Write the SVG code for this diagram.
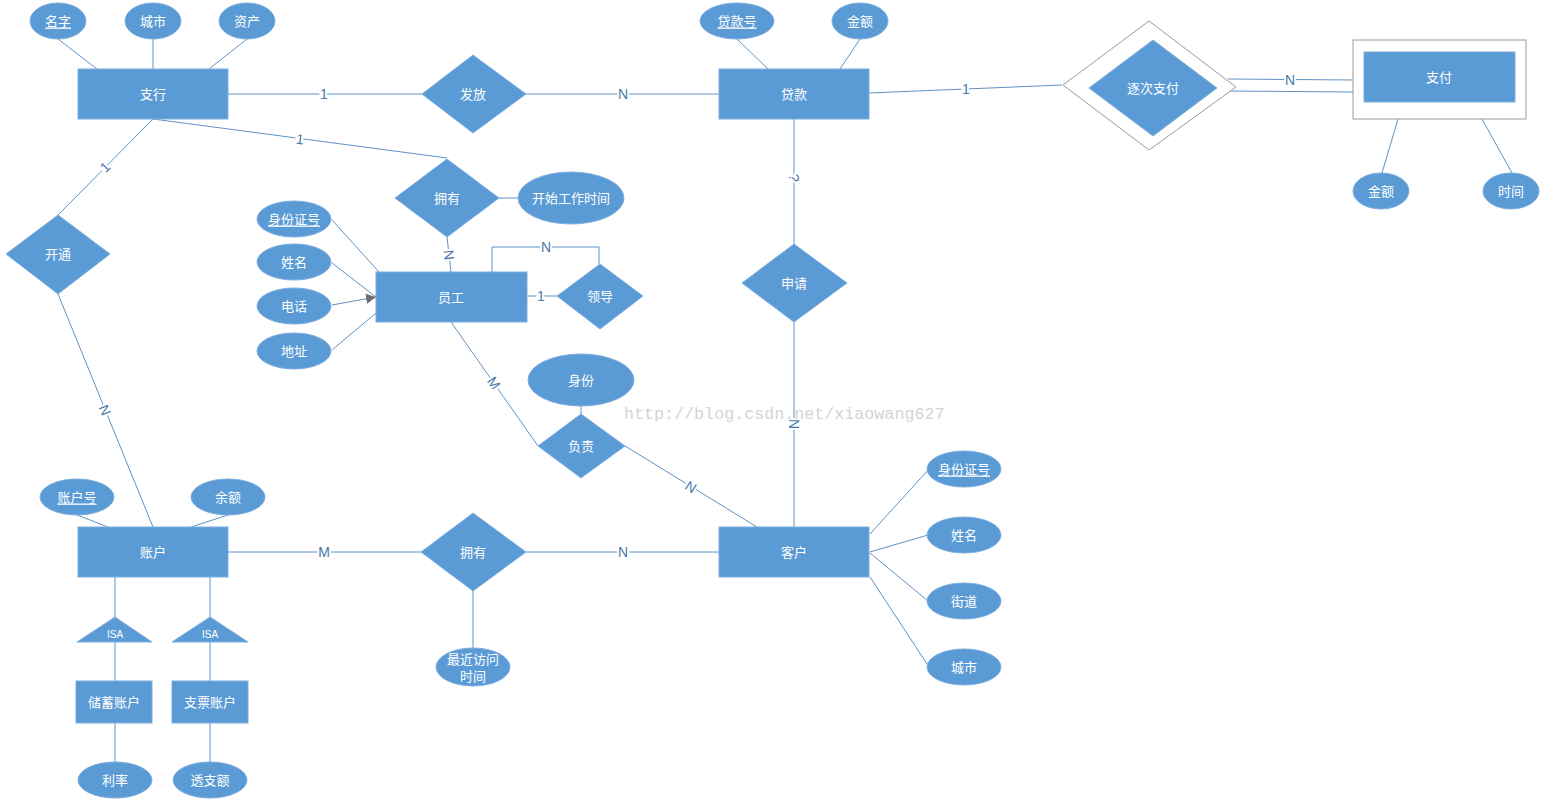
<svg xmlns="http://www.w3.org/2000/svg" width="1546" height="807" viewBox="0 0 1546 807">
<style>
.ent{fill:#5B9BD5;stroke:#7DAEDF;stroke-width:1}
.rel{fill:#5B9BD5;stroke:#7DAEDF;stroke-width:1}
.att{fill:#5B9BD5;stroke:#7DAEDF;stroke-width:1}
.wk{fill:#FFFFFF;stroke:#9A9A9A;stroke-width:1}
.t{fill:#FFFFFF;font-family:"Noto Sans CJK SC","Noto Sans",sans-serif;font-size:13px;text-anchor:middle;dominant-baseline:central}
.u{text-decoration:underline}
.isa{font-size:10px;font-family:"Liberation Sans","Noto Sans",sans-serif}
.ln{fill:none;stroke:#5F92C4;stroke-width:1}
.lb{fill:#4A78A8;font-family:"Liberation Sans",Arial,sans-serif;font-size:14px;text-anchor:middle;dominant-baseline:central;stroke:#FFFFFF;stroke-width:4;paint-order:stroke}
.wm{fill:#D4D4D4;font-family:"Liberation Mono","DejaVu Sans Mono",monospace;font-size:16.7px;dominant-baseline:central}
</style>
<defs>
<marker id="arr" viewBox="0 0 10 10" refX="10" refY="5" markerWidth="10" markerHeight="10" markerUnits="userSpaceOnUse" orient="auto">
<path d="M0,0 L10,5 L0,10 Z" fill="#6E6E6E"/>
</marker>
</defs>
<rect width="1546" height="807" fill="#FFFFFF"/>

<g id="connectors">
<line class="ln" x1="58" y1="39" x2="97" y2="69"/>
<line class="ln" x1="153" y1="39" x2="153" y2="69"/>
<line class="ln" x1="247" y1="39" x2="209" y2="69"/>
<line class="ln" x1="228" y1="94" x2="422" y2="94"/>
<line class="ln" x1="526" y1="94" x2="719" y2="94"/>
<line class="ln" x1="737" y1="39" x2="768" y2="69"/>
<line class="ln" x1="860" y1="39" x2="840" y2="69"/>
<line class="ln" x1="869" y1="93" x2="1062" y2="85"/>
<line class="ln" x1="1228" y1="79" x2="1353" y2="80"/>
<line class="ln" x1="1230" y1="91" x2="1353" y2="92"/>
<line class="ln" x1="1398" y1="119" x2="1382" y2="173"/>
<line class="ln" x1="1482" y1="119" x2="1512" y2="173"/>
<line class="ln" x1="153" y1="119" x2="447" y2="158"/>
<line class="ln" x1="153" y1="119" x2="58" y2="215"/>
<line class="ln" x1="58" y1="294" x2="153" y2="527"/>
<line class="ln" x1="499" y1="198" x2="518" y2="198"/>
<line class="ln" x1="447" y1="237" x2="451" y2="272"/>
<polyline class="ln" points="492,272 492,247 599,247 599,264"/>
<line class="ln" x1="527" y1="296" x2="557" y2="296"/>
<line class="ln" x1="332" y1="220" x2="379" y2="272"/>
<line class="ln" x1="332" y1="263" x2="376" y2="297"/>
<line class="ln" x1="332" y1="305" x2="376" y2="297" marker-end="url(#arr)"/>
<line class="ln" x1="332" y1="350" x2="376" y2="313"/>
<line class="ln" x1="451" y1="322" x2="538" y2="446"/>
<line class="ln" x1="581" y1="406" x2="581" y2="414"/>
<line class="ln" x1="625" y1="446" x2="757" y2="527"/>
<line class="ln" x1="794" y1="119" x2="794" y2="244"/>
<line class="ln" x1="794" y1="322" x2="794" y2="527"/>
<line class="ln" x1="870" y1="534" x2="929" y2="469"/>
<line class="ln" x1="870" y1="552" x2="928" y2="535"/>
<line class="ln" x1="870" y1="553" x2="928" y2="601"/>
<line class="ln" x1="870" y1="577" x2="929" y2="667"/>
<line class="ln" x1="228" y1="552" x2="421" y2="552"/>
<line class="ln" x1="526" y1="552" x2="719" y2="552"/>
<line class="ln" x1="473" y1="591" x2="473" y2="649"/>
<line class="ln" x1="77" y1="515" x2="108" y2="527"/>
<line class="ln" x1="228" y1="515" x2="191" y2="527"/>
<line class="ln" x1="115" y1="577" x2="115" y2="617"/>
<line class="ln" x1="210" y1="577" x2="210" y2="617"/>
<line class="ln" x1="115" y1="642" x2="115" y2="681"/>
<line class="ln" x1="210" y1="642" x2="210" y2="681"/>
<line class="ln" x1="115" y1="723" x2="115" y2="762"/>
<line class="ln" x1="210" y1="723" x2="210" y2="762"/>
<text class="lb" x="324" y="94">1</text>
<text class="lb" x="623" y="94">N</text>
<text class="lb" x="966" y="89">1</text>
<text class="lb" x="1290" y="80">N</text>
<text class="lb" transform="translate(300 139) rotate(7.6)">1</text>
<text class="lb" transform="translate(105 167) rotate(-45)">1</text>
<text class="lb" transform="translate(105 410) rotate(67.8)">N</text>
<text class="lb" transform="translate(449 255) rotate(83)">N</text>
<text class="lb" x="546" y="247">N</text>
<text class="lb" x="541" y="296">1</text>
<text class="lb" transform="translate(494 383) rotate(55)">M</text>
<text class="lb" transform="translate(691 487) rotate(31.5)">N</text>
<text class="lb" transform="translate(794 178) rotate(90)">?</text>
<text class="lb" transform="translate(794 424) rotate(90)">N</text>
<text class="lb" x="324" y="552">M</text>
<text class="lb" x="623" y="552">N</text>
</g>

<g id="zhihang"><rect class="ent" x="78" y="69" width="150" height="50"/><text class="t" x="153" y="93">支行</text></g>
<g id="zhihang-mingzi"><ellipse class="att" cx="58" cy="21" rx="28" ry="18"/><text class="t u" x="58" y="20">名字</text></g>
<g id="zhihang-chengshi"><ellipse class="att" cx="153" cy="21" rx="28" ry="18"/><text class="t" x="153" y="20">城市</text></g>
<g id="zhihang-zichan"><ellipse class="att" cx="247" cy="21" rx="28" ry="18"/><text class="t" x="247" y="20">资产</text></g>

<g id="fafang"><polygon class="rel" points="422,94 473,55 526,94 473,133"/><text class="t" x="473" y="93">发放</text></g>

<g id="daikuan"><rect class="ent" x="719" y="69" width="150" height="50"/><text class="t" x="794" y="93">贷款</text></g>
<g id="daikuan-hao"><ellipse class="att" cx="737" cy="21" rx="37" ry="18"/><text class="t u" x="737" y="20">贷款号</text></g>
<g id="daikuan-jine"><ellipse class="att" cx="860" cy="21" rx="28" ry="18"/><text class="t" x="860" y="20">金额</text></g>

<g id="zhuci"><polygon class="wk" points="1063,85 1149,21 1236,87 1149,150"/><polygon class="rel" points="1089,88 1153,40 1217,88 1153,136"/><text class="t" x="1153" y="87">逐次支付</text></g>

<g id="zhifu"><rect class="wk" x="1353" y="40" width="173" height="79"/><rect class="ent" x="1364" y="52" width="151" height="50"/><text class="t" x="1439" y="76">支付</text></g>
<g id="zhifu-jine"><ellipse class="att" cx="1381" cy="191" rx="28" ry="18"/><text class="t" x="1381" y="190">金额</text></g>
<g id="zhifu-shijian"><ellipse class="att" cx="1511" cy="191" rx="28" ry="18"/><text class="t" x="1511" y="190">时间</text></g>

<g id="kaitong"><polygon class="rel" points="6,254 58,215 110,254 58,294"/><text class="t" x="58" y="253">开通</text></g>

<g id="yongyou1"><polygon class="rel" points="395,198 447,159 499,198 447,237"/><text class="t" x="447" y="197">拥有</text></g>
<g id="kaishi"><ellipse class="att" cx="571" cy="198" rx="53" ry="26"/><text class="t" x="571" y="197">开始工作时间</text></g>

<g id="yuangong"><rect class="ent" x="376" y="272" width="151" height="50"/><text class="t" x="451" y="296">员工</text></g>
<g id="yg-sfz"><ellipse class="att" cx="294" cy="219" rx="37" ry="18"/><text class="t u" x="294" y="218">身份证号</text></g>
<g id="yg-xingming"><ellipse class="att" cx="294" cy="262" rx="37" ry="18"/><text class="t" x="294" y="261">姓名</text></g>
<g id="yg-dianhua"><ellipse class="att" cx="294" cy="306" rx="37" ry="18"/><text class="t" x="294" y="305">电话</text></g>
<g id="yg-dizhi"><ellipse class="att" cx="294" cy="351" rx="37" ry="18"/><text class="t" x="294" y="350">地址</text></g>

<g id="lingdao"><polygon class="rel" points="557,296 600,264 643,296 600,329"/><text class="t" x="600" y="295">领导</text></g>

<g id="shenqing"><polygon class="rel" points="742,283 794,244 847,283 794,322"/><text class="t" x="794" y="282">申请</text></g>

<g id="shenfen"><ellipse class="att" cx="581" cy="380" rx="53" ry="26"/><text class="t" x="581" y="379">身份</text></g>
<g id="fuze"><polygon class="rel" points="538,446 581,414 625,446 581,478"/><text class="t" x="581" y="445">负责</text></g>

<g id="kehu"><rect class="ent" x="719" y="527" width="150" height="50"/><text class="t" x="794" y="551">客户</text></g>
<g id="kh-sfz"><ellipse class="att" cx="964" cy="469" rx="37" ry="18"/><text class="t u" x="964" y="468">身份证号</text></g>
<g id="kh-xingming"><ellipse class="att" cx="964" cy="535" rx="37" ry="18"/><text class="t" x="964" y="534">姓名</text></g>
<g id="kh-jiedao"><ellipse class="att" cx="964" cy="601" rx="37" ry="18"/><text class="t" x="964" y="600">街道</text></g>
<g id="kh-chengshi"><ellipse class="att" cx="964" cy="667" rx="37" ry="18"/><text class="t" x="964" y="666">城市</text></g>

<g id="yongyou2"><polygon class="rel" points="421,552 473,513 526,552 473,591"/><text class="t" x="473" y="551">拥有</text></g>
<g id="zuijin"><ellipse class="att" cx="473" cy="667" rx="37" ry="19"/><text class="t" x="473" y="658">最近访问</text><text class="t" x="473" y="675">时间</text></g>

<g id="zhanghu"><rect class="ent" x="78" y="527" width="150" height="50"/><text class="t" x="153" y="551">账户</text></g>
<g id="zh-hao"><ellipse class="att" cx="77" cy="497" rx="37" ry="18"/><text class="t u" x="77" y="496">账户号</text></g>
<g id="zh-yue"><ellipse class="att" cx="228" cy="497" rx="37" ry="18"/><text class="t" x="228" y="496">余额</text></g>

<g id="isa1"><polygon class="rel" points="115,617 152,642 77,642"/><text class="t isa" x="115" y="634">ISA</text></g>
<g id="isa2"><polygon class="rel" points="210,617 248,642 172,642"/><text class="t isa" x="210" y="634">ISA</text></g>

<g id="chuxu"><rect class="ent" x="76" y="681" width="76" height="42"/><text class="t" x="114" y="701">储蓄账户</text></g>
<g id="zhipiao"><rect class="ent" x="172" y="681" width="76" height="42"/><text class="t" x="210" y="701">支票账户</text></g>
<g id="lilv"><ellipse class="att" cx="115" cy="780" rx="37" ry="18"/><text class="t" x="115" y="779">利率</text></g>
<g id="touzhi"><ellipse class="att" cx="210" cy="780" rx="37" ry="18"/><text class="t" x="210" y="779">透支额</text></g>

<text class="wm" x="624" y="414">http://blog.csdn.net/xiaowang627</text>
</svg>
